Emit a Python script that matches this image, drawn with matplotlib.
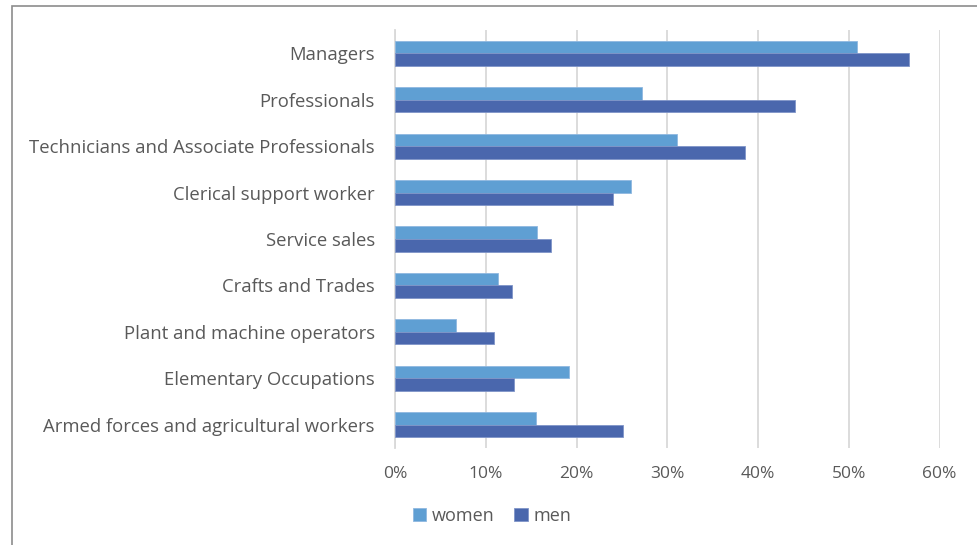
import matplotlib.pyplot as plt
import numpy as np
from matplotlib.patches import Rectangle
from matplotlib.ticker import PercentFormatter

# occupation categories, top to bottom
categories = [
    "Managers",
    "Professionals",
    "Technicians and Associate Professionals",
    "Clerical support worker",
    "Service sales",
    "Crafts and Trades",
    "Plant and machine operators",
    "Elementary Occupations",
    "Armed forces and agricultural workers",
]
women = [50.9, 27.2, 31.1, 26.0, 15.6, 11.3, 6.7, 19.2, 15.5]
men = [56.6, 44.1, 38.6, 24.0, 17.2, 12.9, 10.9, 13.1, 25.1]

c_women = "#5f9fd3"
c_men = "#4a67ad"
txt = "#595959"

plt.rcParams['font.family'] = ['Open Sans', 'DejaVu Sans']

fig = plt.figure(figsize=(9.77, 5.45), dpi=100)
W, H = 977, 545
ax = fig.add_axes([395 / W, 1 - 448 / H, (939.5 - 395) / W, (448 - 30) / H])

y = np.arange(len(categories))
h = 0.27
ax.barh(y - h / 2, women, height=h, color=c_women, edgecolor="#8fb8e0", linewidth=0.6, label="women", zorder=3)
ax.barh(y + h / 2, men, height=h, color=c_men, edgecolor="#7f95c8", linewidth=0.6, label="men", zorder=3)

ax.set_ylim(len(categories) - 0.5, -0.5)
ax.set_xlim(0, 60)
ax.set_xticks(np.arange(0, 61, 10))
ax.xaxis.set_major_formatter(PercentFormatter(decimals=0))
ax.set_yticks(y)
ax.set_yticklabels(categories)

ax.grid(axis="x", color="#d9d9d9", linewidth=1.3, zorder=0)
for s in ["top", "right", "bottom"]:
    ax.spines[s].set_visible(False)
ax.spines["left"].set_color("#d9d9d9")
ax.spines["left"].set_linewidth(1.3)
ax.tick_params(axis="both", length=0, colors=txt)
ax.tick_params(axis="y", pad=14.5, labelsize=13.3)
ax.tick_params(axis="x", pad=13, labelsize=12.5)

leg = fig.legend(loc="center", bbox_to_anchor=(492 / W, 1 - 516 / H), ncol=2, frameon=False,
                 fontsize=13, handlelength=0.75, handleheight=0.75, handletextpad=0.3, columnspacing=1.1)
for t in leg.get_texts():
    t.set_color(txt)

# outer chart frame
fig.add_artist(Rectangle((12 / W, -0.01), 1.0, 1 - 6 / H + 0.01, transform=fig.transFigure,
                         fill=False, edgecolor="#8c8c8c", linewidth=1.2))

fig.savefig("out.png", dpi=100)
